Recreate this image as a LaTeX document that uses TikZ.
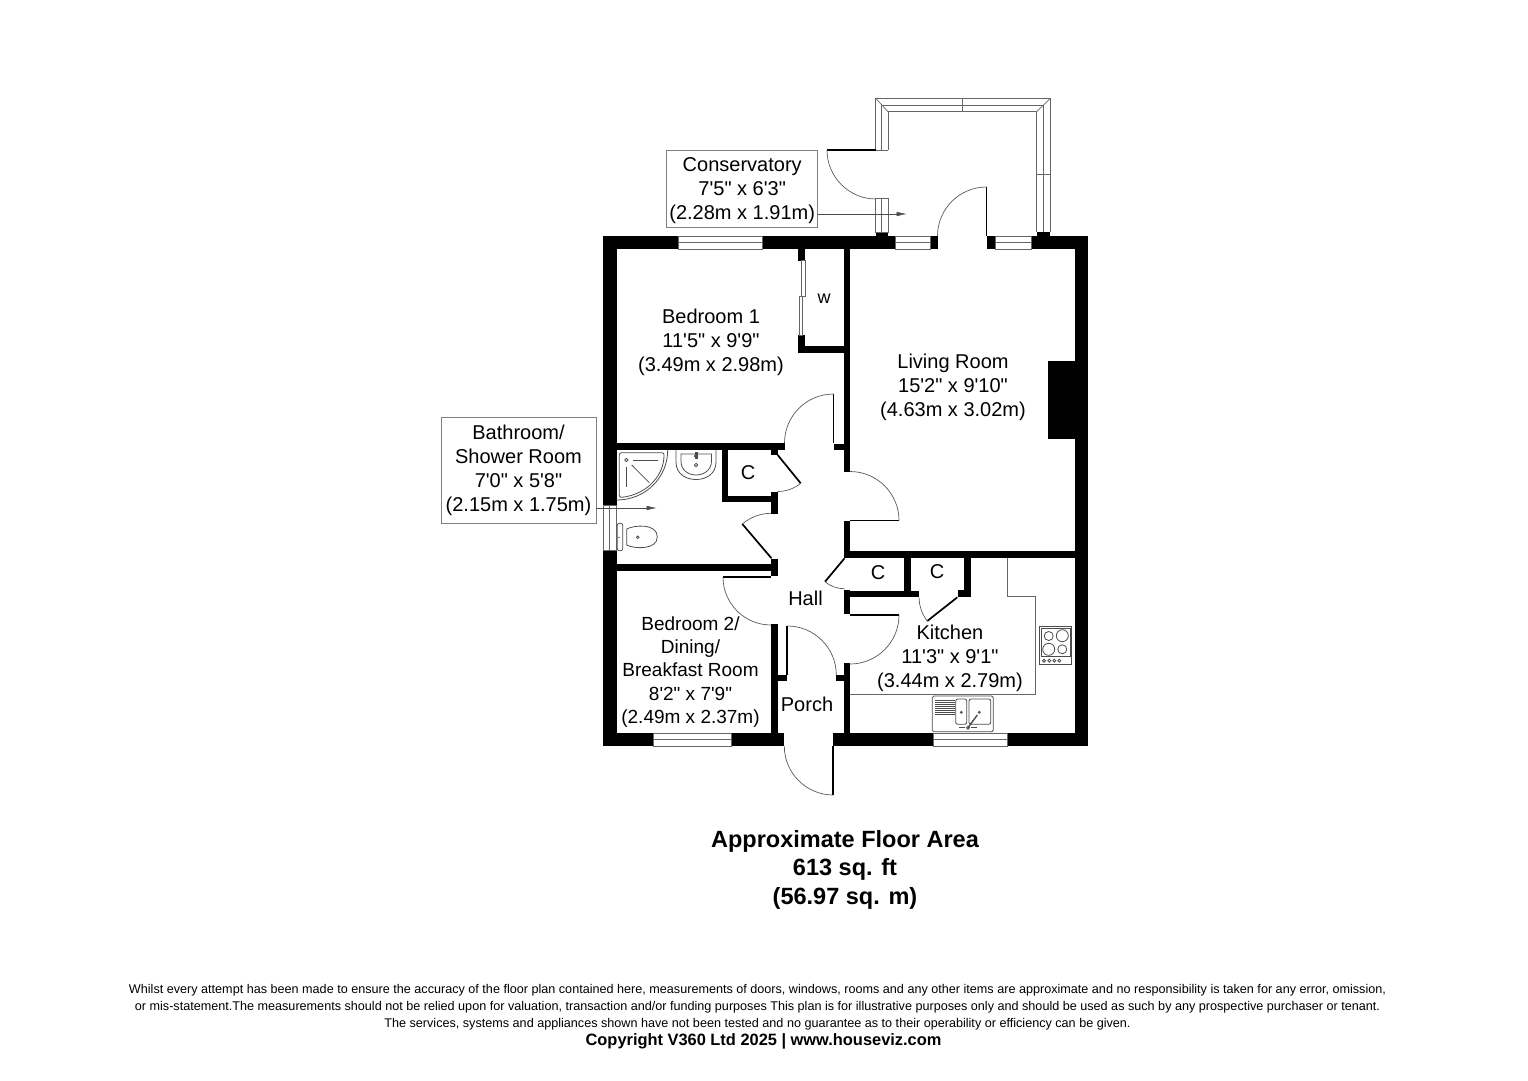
\documentclass[tikz,border=0pt]{standalone}
\usepackage{fontspec}
\usepackage{tikz}
\usetikzlibrary{arrows.meta}
\newfontfamily\planfont{Liberation Sans}

\begin{document}
\begin{tikzpicture}[
  x=1pt, y=-1pt,
  wall/.style={fill=black, draw=none},
  thinline/.style={draw=black!60, line width=0.7pt},
  fitting/.style={draw=black!70, line width=0.8pt},
  swing/.style={draw=black!65, line width=0.7pt},
  leaf/.style={draw=black, line width=1.7pt},
  labelbox/.style={draw=black!50, line width=0.6pt, minimum width=151pt, inner sep=0pt},
  pointer/.style={draw=black!70, line width=0.5pt, -{Latex[length=10pt,width=4.5pt]}}
  ]
  \tikzset{every node/.style={font=\planfont\fontsize{20}{24}\selectfont, align=center}}
  \useasboundingbox (0,0) rectangle (1528,1080);

  % walls
  \foreach \xa/\ya/\xb/\yb in {
    603.3/236/678/249.3, 762.7/236/895/249.3, 930/236/938/249.3, 987/236/995/249.3,
    1031/236/1088.3/249.3, 603.3/236/616.7/505, 603.3/550/616.7/746, 1075/236/1088.3/746,
    603.3/733.3/653.3/746, 731/733.3/784.3/746, 833.3/733.3/933.3/746, 1007.3/733.3/1088.3/746,
    844.3/249/850.3/472, 844.3/521/850.3/558, 834/443.5/850/450, 616/443.3/785/450,
    771/450/777.7/454.5, 721.7/450/727.7/502.3, 721.7/496/777.7/502.3, 771/491.7/777.7/514,
    771/559.3/777.7/575.7, 616/564/771/570.7, 771/624.3/778.3/733.5, 778/675/786.7/681,
    835.7/675/844.3/681, 844.3/663/850.3/733.5, 844.3/590/850.3/614, 844.3/551/1075/558,
    844.3/590.7/919/597.3, 904/558/910.7/591, 964/558/970.7/597.3, 957.7/590/970.7/597.3,
    798.3/249/805/260.7, 798.3/335/805/353, 798.3/346/844.3/353,
    1047.7/361/1075/439, 875.7/232.7/888/236, 1036.7/232/1050.3/236
  } {
    \fill[wall] (\xa,\ya) rectangle (\xb,\yb);
  }

  % windows
  \foreach \xa/\xb/\ya/\yb in {678/762.7/236/249.3, 895/930/236/249.3, 995/1031/236/249.3,
    653.3/731/733.3/746, 933.3/1007.3/733.3/746} {
    \draw[thinline] (\xa,\ya) rectangle (\xb,\yb);
    \draw[thinline] (\xa,{(\ya+\yb)/2}) -- (\xb,{(\ya+\yb)/2});
  }
  \draw[thinline] (603.3,505) rectangle (616.7,550);
  \draw[thinline] (609.5,505) -- (609.5,550);

  % conservatory frame
  \draw[thinline] (875.7,150) -- (875.7,98.3) -- (1050.3,98.3) -- (1050.3,232);
  \draw[thinline] (881.7,150) -- (881.7,105.7) -- (1043.3,105.7) -- (1043.3,232);
  \draw[thinline] (888,150) -- (888,111.7) -- (1036.7,111.7) -- (1036.7,232);
  \draw[thinline] (875.7,150) -- (888,150);
  \draw[thinline] (875.7,98.3) -- (888,111.7);
  \draw[thinline] (1050.3,98.3) -- (1036.7,111.7);
  \draw[thinline] (962,98.3) -- (962,111.7);
  \draw[thinline] (1036.7,174) -- (1050.3,174);
  \draw[thinline] (875.7,198) rectangle (888,232.7);
  \draw[thinline] (881.7,198) -- (881.7,232.7);

  % doors
  \draw[leaf] (876,150) -- (827,150);
  \draw[swing] (827,150) arc[start angle=180, end angle=90, radius=49];
  \draw[leaf] (986.5,236) -- (986.5,187);
  \draw[swing] (986.5,187) arc[start angle=-90, end angle=-180, radius=49];
  \draw[leaf] (833.5,443) -- (833.5,394);
  \draw[swing] (833.5,394) arc[start angle=-90, end angle=-180, radius=49];
  \draw[leaf] (850,520.5) -- (899,520.5);
  \draw[swing] (899,520.5) arc[start angle=0, end angle=-90, radius=49];
  \draw[leaf] (777.7,455) -- (800.7,483.3);
  \draw[swing] (800.7,483.3) arc[start angle=50.9, end angle=90, radius=36.5];
  \draw[leaf] (771.5,558.3) -- (742.3,524);
  \draw[swing] (742.3,524) arc[start angle=-130.4, end angle=-90, radius=45];
  \draw[leaf] (771,577) -- (723,577);
  \draw[swing] (723,577) arc[start angle=180, end angle=90, radius=48];
  \draw[leaf] (787.3,675) -- (787.3,626);
  \draw[swing] (787.3,626) arc[start angle=-90, end angle=0, radius=49];
  \draw[leaf] (850,615) -- (899,615);
  \draw[swing] (899,615) arc[start angle=0, end angle=90, radius=49];
  \draw[leaf] (844.5,558.3) -- (825,581.7);
  \draw[swing] (825,581.7) arc[start angle=129.8, end angle=90, radius=30.5];
  \draw[leaf] (957.3,597.3) -- (927.3,621);
  \draw[swing] (927.3,621) arc[start angle=141.7, end angle=180, radius=38.2];
  \draw[leaf] (833.3,746) -- (833.3,795);
  \draw[swing] (833.3,795) arc[start angle=90, end angle=180, radius=49];

  % wardrobe sliders
  \draw[thinline] (801.7,260.7) rectangle (805,296);
  \draw[thinline] (799,296) rectangle (802,335);

  % shower
  \draw[fitting] (667.7,450) .. controls (667.7,478) and (645,500) .. (616.7,500);
  \draw[fitting, rounded corners=2pt] (619.3,452.7) -- (664,452.7) -- (664,457)
    .. controls (662,478) and (645,494) .. (622,497.3) -- (619.3,497.3) -- cycle;
  \draw[fitting] (633.3,460) -- (658.3,460);
  \draw[fitting] (626,466.7) -- (626,486.7);
  \draw[fitting] (631.7,465) -- (649.3,482.7);
  \draw[fitting] (626.3,460) circle (1.7);

  % basin
  \draw[fitting] (676,450) -- (676,462) .. controls (676,474) and (686,479.5) .. (696,479.5)
    .. controls (706,479.5) and (716,474) .. (716,462) -- (716,450);
  \draw[fitting] (681,454) -- (681,461) .. controls (681,470) and (688,475) .. (696,475)
    .. controls (704,475) and (711.5,470) .. (711.5,461) -- (711.5,454) -- cycle;
  \draw[fitting] (696,465) circle (1.7);
  \draw[fitting] (696,456) circle (1.7);
  \fill[black!70] (694.5,452) rectangle (697.5,459);

  % toilet
  \draw[fitting, rounded corners=2pt] (617.3,523.3) rectangle (622.7,550.7);
  \draw[fitting] (626.7,529) .. controls (634,525) and (657.3,523) .. (657.3,537)
    .. controls (657.3,550) and (634,549) .. (626.7,545) -- cycle;
  \draw[fitting] (637.7,537.3) circle (1.3);
  \fill[black!70] (619,537.3) circle (0.8);

  % kitchen units
  \draw[thinline] (1007,558) -- (1007,596.7) -- (1035.7,596.7) -- (1035.7,694) -- (850.3,694);
  \draw[fitting] (1039,626.7) rectangle (1071.7,664.3);
  \draw[fitting] (1041,628.3) rectangle (1070,656.7);
  \foreach \cx/\cy/\cr in {1048.7/636/4.5, 1062.3/635.7/6, 1048.7/649.3/6, 1062.3/649.3/4.5,
    1044/660.7/1.5, 1049.3/660.7/1.5, 1054.3/660.7/1.5, 1059.3/660.7/1.5} {
    \draw[fitting] (\cx,\cy) circle (\cr);
  }
  \draw[fitting, rounded corners=1.5pt] (932.3,696) rectangle (993.3,731.7);
  \draw[fitting, rounded corners=2pt] (955.7,699) rectangle (966.7,724.3);
  \draw[fitting, rounded corners=2pt] (969,699) rectangle (990.7,724.3);
  \foreach \ly in {700,702,704,706,708,710,712,714} {
    \draw[fitting] (935,\ly) -- (955,\ly);
  }
  \draw[fitting] (961.3,712.3) circle (1);
  \draw[fitting] (979.3,712.3) circle (1);
  \draw[fitting, line width=1.4pt] (968,727.7) -- (977.3,715);
  \draw[fitting] (968,727.7) circle (1.5);
  \draw[black!70, line width=1pt] (959,727.7) -- (965,727.7);
  \draw[black!70, line width=1pt] (971,727.7) -- (977,727.7);

  % room names
  \node (bedroomone) at (711,342) {Bedroom 1\\11'5" x 9'9"\\(3.49m x 2.98m)};
  \node (livingroom) at (953,387) {Living Room\\15'2" x 9'10"\\(4.63m x 3.02m)};
  \node (kitchen) at (950,658) {Kitchen\\11'3" x 9'1"\\(3.44m x 2.79m)};
  \node[font=\planfont\fontsize{19}{23.2}\selectfont] (bedroomtwo) at (690.5,672) {Bedroom 2/\\Dining/\\Breakfast Room\\8'2" x 7'9"\\(2.49m x 2.37m)};
  \node (hall) at (805.5,598) {Hall};
  \node (porch) at (807,704) {Porch};
  \node (cupboardone) at (748,473) {C};
  \node (cupboardtwo) at (878,573) {C};
  \node (cupboardthree) at (937,571.5) {C};
  \node[font=\planfont\fontsize{18}{24}\selectfont] (wardrobe) at (824,299) {w};

  % labels with pointers
  \node[labelbox, minimum height=77pt] (conservatory) at (742.2,188.6) {\rule{0pt}{18.5pt}Conservatory\\7'5" x 6'3"\\(2.28m x 1.91m)};
  \coordinate (conservatorytip) at (906.7,214);
  \draw[pointer] (conservatory.east |- conservatorytip) -- (conservatorytip);
  \node[labelbox, minimum width=155pt, minimum height=106pt] (bathroom) at (518.5,470) {Bathroom/\\Shower Room\\7'0" x 5'8"\\(2.15m x 1.75m)};
  \coordinate (bathroomtip) at (656.7,508);
  \draw[pointer] (bathroom.east |- bathroomtip) -- (bathroomtip);

  % area and small print
  \node[font=\planfont\bfseries\fontsize{23.5}{28.5}\selectfont] (floorarea) at (845,869.5) {Approximate Floor Area\\613 sq. ft\\(56.97 sq. m)};
  \node[font=\planfont\fontsize{12.62}{17.3}\selectfont] (smallprint) at (757.5,1007.3) {Whilst every attempt has been made to ensure the accuracy of the floor plan contained here, measurements of doors, windows, rooms and any other items are approximate and no responsibility is taken for any error, omission,\\or mis-statement.The measurements should not be relied upon for valuation, transaction and/or funding purposes This plan is for illustrative purposes only and should be used as such by any prospective purchaser or tenant.\\The services, systems and appliances shown have not been tested and no guarantee as to their operability or efficiency can be given.};
  \node[font=\planfont\bfseries\fontsize{16.4}{18}\selectfont] (copyright) at (763.5,1041.5) {Copyright V360 Ltd 2025 | www.houseviz.com};
\end{tikzpicture}
\end{document}
